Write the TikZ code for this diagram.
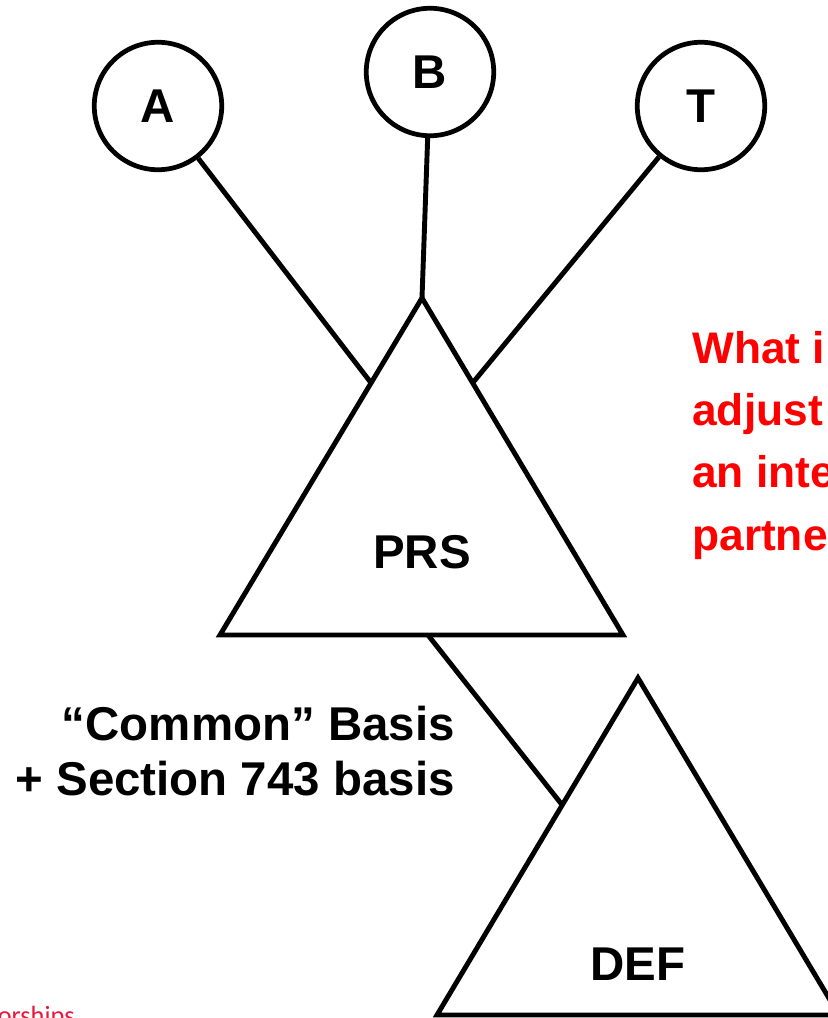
\documentclass[tikz,border=0pt]{standalone}
\usepackage{fontspec}
\setmainfont{Liberation Sans}
\newfontfamily\footfont{Carlito}
\usetikzlibrary{calc}
\definecolor{footred}{RGB}{232,24,60}

\tikzset{
  ent/.style={draw, circle, line width=2.7pt, minimum size=2.55cm, inner sep=0pt,
    font=\fontsize{27}{30}\selectfont\bfseries},
  lbl/.style={inner sep=0pt, font=\fontsize{27}{31.2}\selectfont\bfseries},
  link/.style={line width=2.8pt},
}

\begin{document}
\begin{tikzpicture}[x=0.02cm, y=-0.02cm]
	%%%%% START %%%%%
	\useasboundingbox (0,0) rectangle (828,1018);
	\clip (0,0) rectangle (828,1018);
	
	% upper triangle
	\coordinate (prsTop) at (422,298);
	\coordinate (prsL) at (220,635);
	\coordinate (prsR) at (623,635);
	\draw[link] (prsTop) -- (prsL) -- (prsR) -- cycle;
	\node[lbl, anchor=base] (prs) at (422,568) {PRS};
	
	% lower triangle
	\coordinate (defTop) at (638,678);
	\coordinate (defL) at (437,1015);
	\coordinate (defR) at (839,1015);
	\draw[link] (defTop) -- (defL) -- (defR) -- cycle;
	\node[lbl, anchor=base] (def) at (638,980) {DEF};
	
	% partners
	\node[ent] (a) at (158,106) {A};
	\node[ent] (b) at (430,72) {B};
	\node[ent] (t) at (701,106) {T};
	
	\coordinate (prsA) at ($(prsTop)!0.252!(prsL)$);
	\coordinate (prsT) at ($(prsTop)!0.252!(prsR)$);
	\coordinate (prsD) at ($(prsL)!0.516!(prsR)$);
	\coordinate (defP) at ($(defTop)!0.377!(defL)$);
	
	\draw[link] (a) -- (prsA);
	\draw[link] (b) -- (prsTop);
	\draw[link] (t) -- (prsT);
	\draw[link] (prsD) -- (defP);
	
	% base of last line
	\node[lbl, align=right, anchor=base east] (basis) at (455,795)
		{“Common” Basis\\+ Section 743 basis};
	
	\node[lbl, text=red, align=left, anchor=base west, font=\fontsize{25.2}{35.4}\selectfont\bfseries]
		(ask) at (692,550) {What i\\adjust\\an inte\\partne};
	
	\node[inner sep=0pt, anchor=base east, text=footred, font=\footfont\fontsize{15}{17}\selectfont]
		(foot) at (75,1024) {orships};
	
	%%%%% END %%%%%
\end{tikzpicture}
\end{document}
